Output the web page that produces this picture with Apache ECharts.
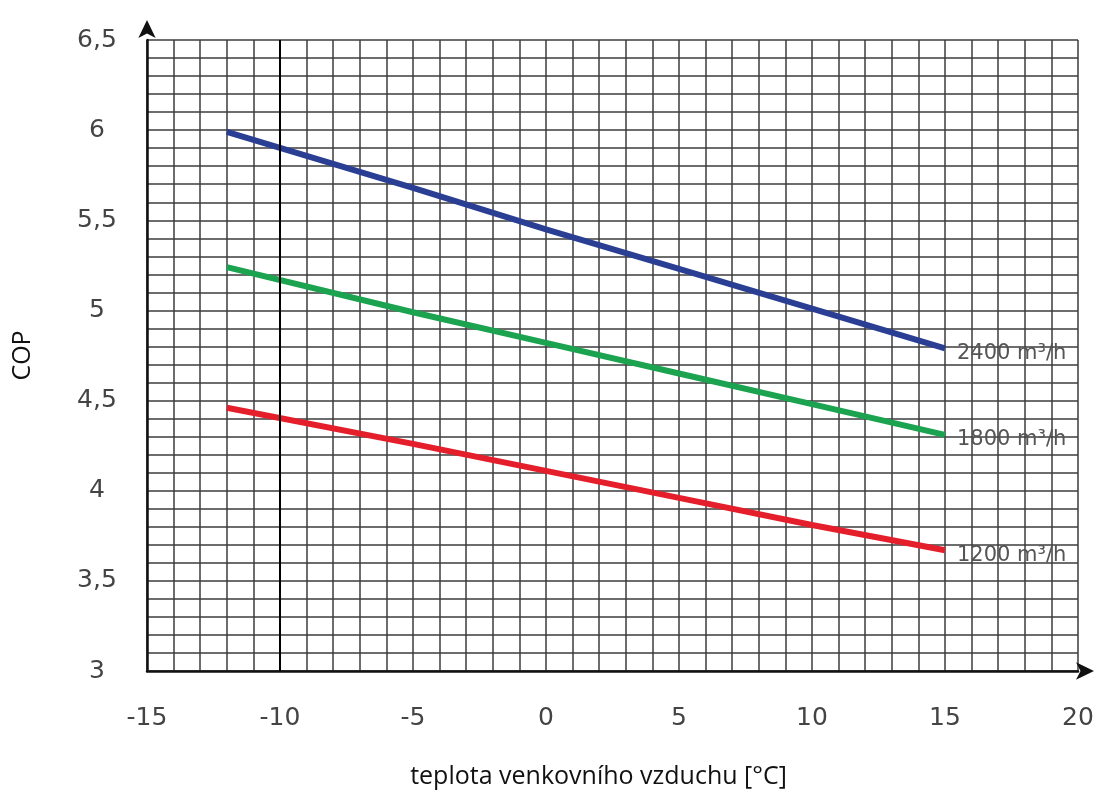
<!DOCTYPE html>
<html>
<head>
<meta charset="utf-8">
<script src="https://cdn.jsdelivr.net/npm/echarts@6/dist/echarts.min.js"></script>
<style>html,body{margin:0;padding:0;background:#fff}#c{width:1099px;height:792px}</style>
</head>
<body>
<div id="c"></div>
<script>
const temps = [-12, -5, 0, 5, 10, 15];
const cop2400 = [5.99, 5.68, 5.45, 5.23, 5.01, 4.79];
const cop1800 = [5.24, 4.99, 4.82, 4.65, 4.48, 4.31];
const cop1200 = [4.46, 4.26, 4.11, 3.96, 3.81, 3.67];
const seriesNames = ['2400 m³/h', '1800 m³/h', '1200 m³/h'];
const seriesColors = ['#2a3f93', '#1ba34f', '#e41f2b'];
const xTitle = 'teplota venkovního vzduchu [°C]';
const yTitle = 'COP';

const pair = arr => temps.map((t, i) => [t, arr[i]]);
const allData = [cop2400, cop1800, cop1200];

const chart = echarts.init(document.getElementById('c'));
chart.setOption({
  animation: false,
  backgroundColor: '#fff',
  grid: { left: 147, right: 21, top: 40, bottom: 121, containLabel: false, outerBoundsMode: 'none' },
  xAxis: {
    type: 'value', min: -15, max: 20, interval: 1,
    name: xTitle, nameLocation: 'middle', nameGap: 93,
    nameTextStyle: { fontFamily: 'Open Sans', fontSize: 25, color: '#111', padding: [0, 28, 0, 0] },
    axisLine: { show: true, onZero: false, symbol: ['none', 'arrow'], symbolSize: [13, 18], symbolOffset: [0, 16],
      lineStyle: { color: '#111', width: 2.5 } },
    axisTick: { show: false },
    splitLine: { show: true, lineStyle: { color: '#3c3c3c', width: 1.5 } },
    axisLabel: { margin: 35, fontFamily: 'DejaVu Sans', fontSize: 25, color: '#444',
      formatter: v => (Math.round(v) % 5 === 0 ? String(Math.round(v)) : '') }
  },
  yAxis: {
    type: 'value', min: 3, max: 6.5, interval: 0.1,
    name: yTitle, nameLocation: 'middle', nameGap: 112, nameRotate: 90,
    nameTextStyle: { fontFamily: 'Open Sans', fontSize: 25, color: '#111' },
    axisLine: { show: true, onZero: false, symbol: ['none', 'arrow'], symbolSize: [13, 18], symbolOffset: [0, 20],
      lineStyle: { color: '#111', width: 2.5 } },
    axisTick: { show: false },
    splitLine: { show: true, lineStyle: { color: '#3c3c3c', width: 1.5 } },
    axisLabel: { margin: 50, align: 'center', fontFamily: 'DejaVu Sans', fontSize: 25, color: '#444',
      formatter: v => { const t = Math.round(v * 10); return t % 5 === 0 ? String(t / 10).replace('.', ',') : ''; } }
  },
  series: allData.map((arr, i) => ({
    type: 'line', name: seriesNames[i], data: pair(arr), showSymbol: false, smooth: false,
    lineStyle: { color: seriesColors[i], width: 6 },
    endLabel: { show: true, formatter: seriesNames[i], distance: 12, fontFamily: 'DejaVu Sans',
      fontSize: 21, color: '#555', offset: [0, 5] },
    markLine: i === 0 ? { silent: true, symbol: 'none', label: { show: false },
      lineStyle: { color: '#000', width: 2, type: 'solid' }, data: [{ xAxis: -10 }] } : undefined
  }))
});
</script>
</body>
</html>
